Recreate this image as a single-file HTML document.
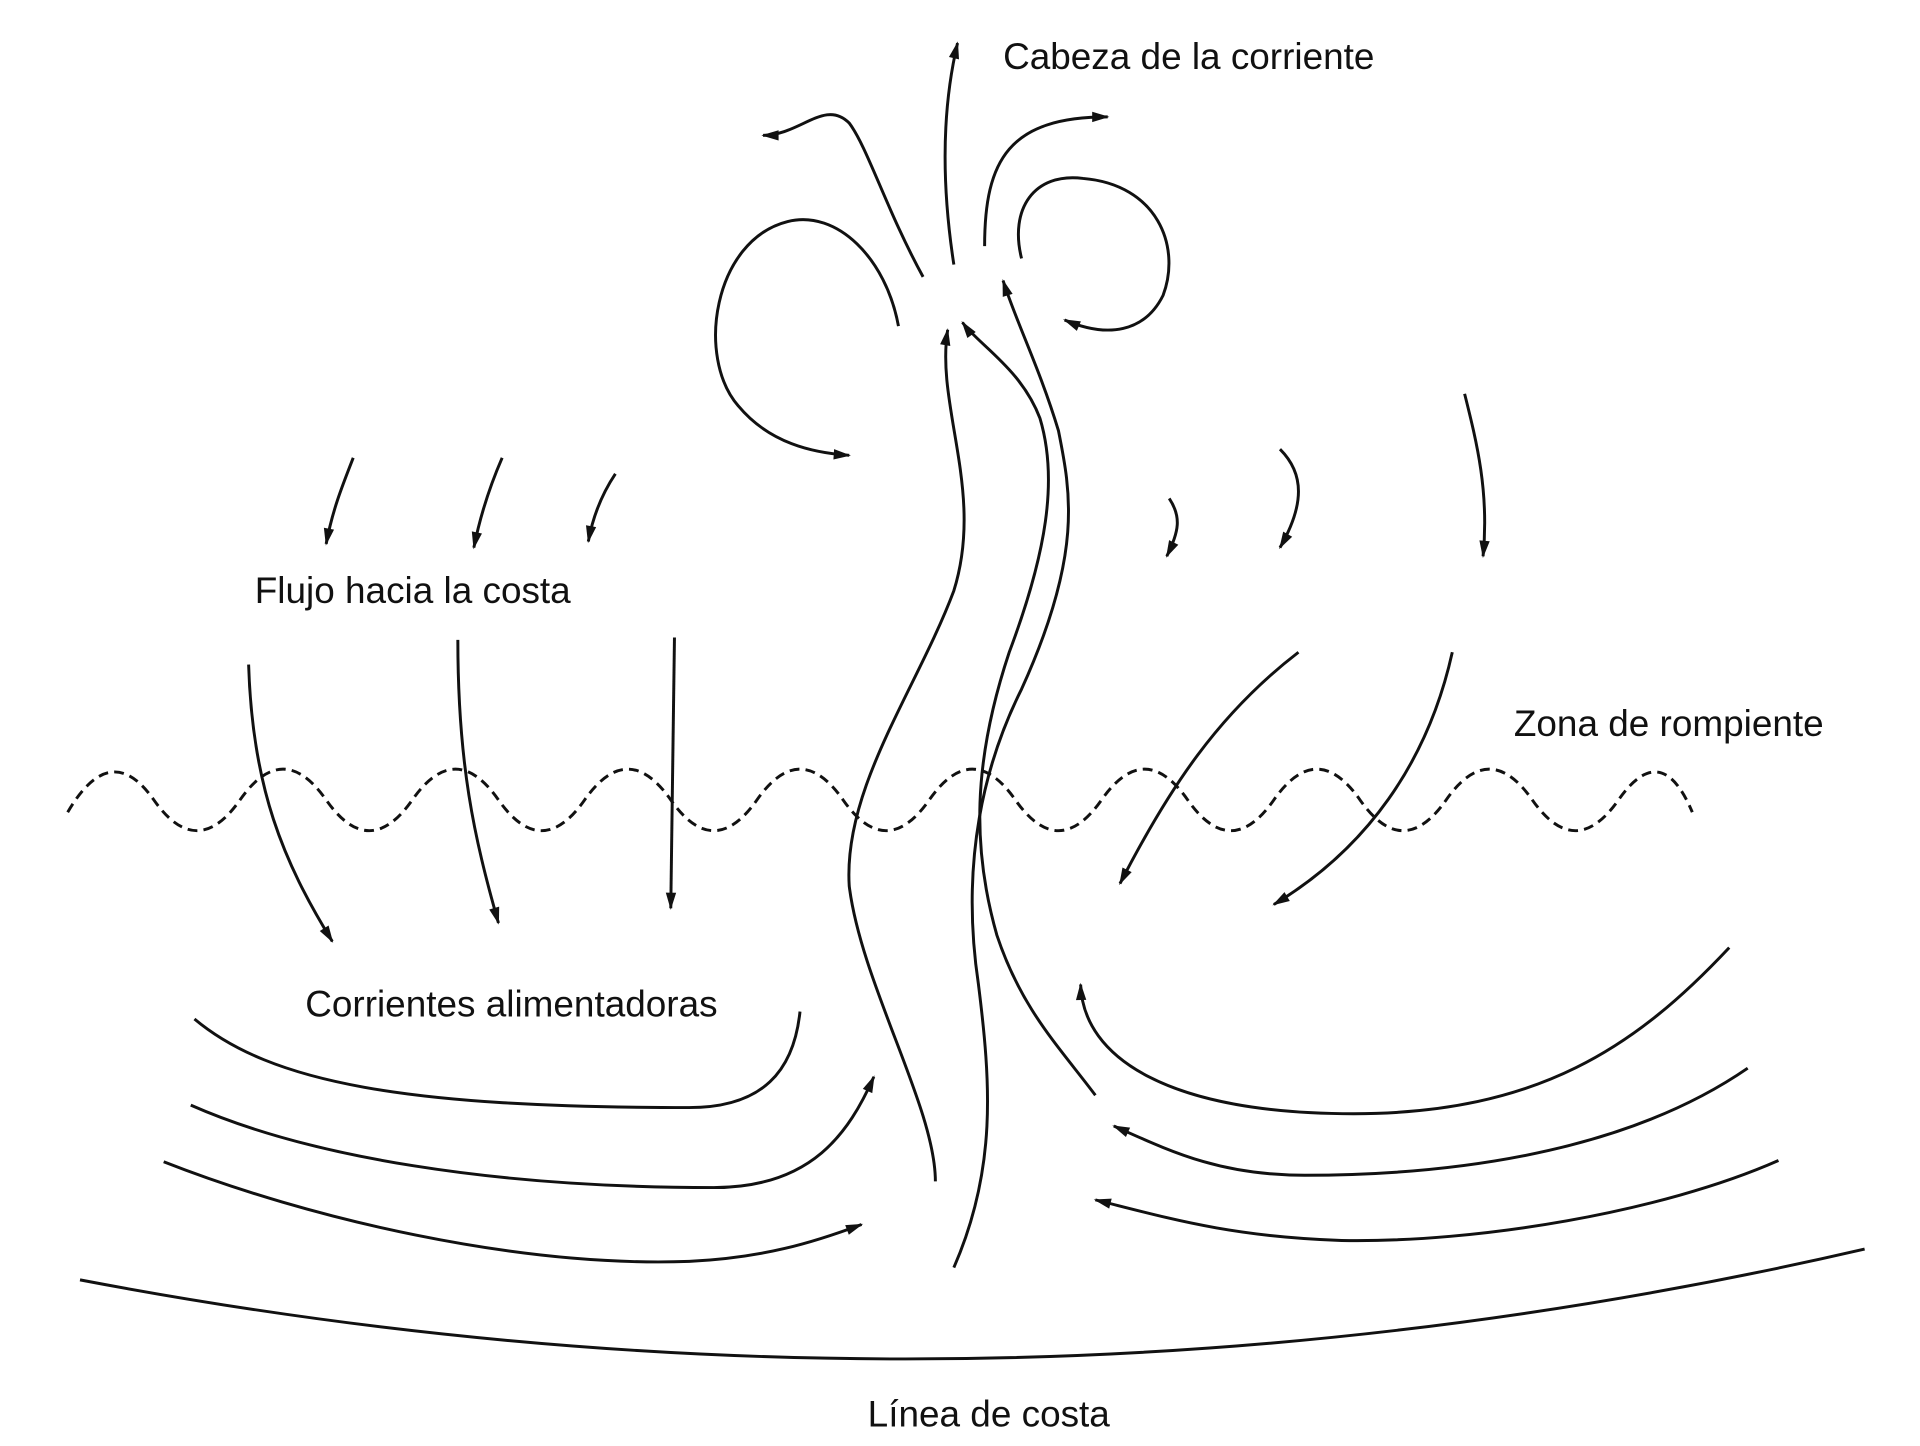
<!DOCTYPE html>
<html><head><meta charset="utf-8"><style>
html,body{margin:0;padding:0;background:#fff;}
svg{display:block;}
text{font-family:"Liberation Sans",sans-serif;font-size:30px;fill:#111;}
</style></head><body>
<svg width="1920" height="1446" viewBox="0 0 1560 1175" preserveAspectRatio="none" xmlns="http://www.w3.org/2000/svg">
<defs>
<marker id="b" viewBox="0 0 10 10" refX="9" refY="5" markerWidth="22" markerHeight="14" orient="auto" markerUnits="userSpaceOnUse">
<path d="M0,2 L10,5 L0,8 z" fill="#111"/></marker>
</defs>
<g fill="none" stroke="#111" stroke-width="2.4">
<path d="M65 1040 Q800 1180 1515 1015"/>
<path stroke-dasharray="8,5" d="M55 660 Q90 600 125 650 T195 650 T265 650 T335 650 T405 650 T475 650 T545 650 T615 650 T685 650 T755 650 T825 650 T895 650 T965 650 T1035 650 T1105 650 T1175 650 T1245 650 T1315 650 T1375 660"/>
<path marker-end="url(#b)" d="M760 960 C760 900 700 800 690 720 C685 640 745 560 775 480 C800 400 760 330 770 268"/>
<path marker-end="url(#b)" d="M775 1030 C810 950 805 880 795 800 C780 700 800 620 830 560 C880 450 870 400 860 350 C845 300 825 260 815 228"/>
<path marker-end="url(#b)" d="M890 890 C860 850 830 820 810 760 C790 690 790 620 820 530 C850 450 860 390 845 340 C830 300 795 280 782 262"/>
<path marker-end="url(#b)" d="M775 215 C765 150 765 90 778 35"/>
<path marker-end="url(#b)" d="M730 265 C720 210 680 170 640 180 C580 195 565 290 600 330 C625 360 660 368 690 370"/>
<path marker-end="url(#b)" d="M750 225 C720 170 705 120 690 100 C670 80 650 110 620 110"/>
<path marker-end="url(#b)" d="M800 200 C800 130 820 95 900 95"/>
<path marker-end="url(#b)" d="M830 210 C820 170 840 140 880 145 C940 150 960 200 945 240 C930 270 900 275 865 260"/>
<path marker-end="url(#b)" d="M287 372 C278 395 270 415 265 442"/>
<path marker-end="url(#b)" d="M408 372 C398 395 390 420 385 445"/>
<path marker-end="url(#b)" d="M500 385 C490 400 482 418 478 440"/>
<path marker-end="url(#b)" d="M950 405 C960 420 958 432 948 452"/>
<path marker-end="url(#b)" d="M1040 365 C1060 385 1060 410 1040 445"/>
<path marker-end="url(#b)" d="M1190 320 C1200 360 1210 400 1205 452"/>
<path marker-end="url(#b)" d="M202 540 C205 640 230 700 270 765"/>
<path marker-end="url(#b)" d="M372 520 C372 620 385 680 405 750"/>
<path marker-end="url(#b)" d="M548 518 L545 738"/>
<path marker-end="url(#b)" d="M1055 530 C990 580 950 640 910 718"/>
<path marker-end="url(#b)" d="M1180 530 C1160 620 1110 690 1035 735"/>
<path d="M158 828 C220 880 330 900 560 900 C620 900 645 870 650 822"/>
<path marker-end="url(#b)" d="M155 898 C250 940 400 965 580 965 C660 965 690 920 710 875"/>
<path marker-end="url(#b)" d="M133 944 C250 990 420 1030 560 1025 C620 1022 660 1010 700 995"/>
<path marker-end="url(#b)" d="M1405 770 C1330 850 1250 905 1100 905 C950 905 880 860 878 800"/>
<path marker-end="url(#b)" d="M1420 868 C1330 930 1200 955 1060 955 C990 955 950 935 905 915"/>
<path marker-end="url(#b)" d="M1445 943 C1350 985 1200 1010 1090 1008 C1000 1005 950 990 890 975"/>
</g>
<text x="815" y="56">Cabeza de la corriente</text>
<text x="207" y="490">Flujo hacia la costa</text>
<text x="1230" y="598">Zona de rompiente</text>
<text x="248" y="826">Corrientes alimentadoras</text>
<text x="705" y="1159">Línea de costa</text>
</svg>
</body></html>
